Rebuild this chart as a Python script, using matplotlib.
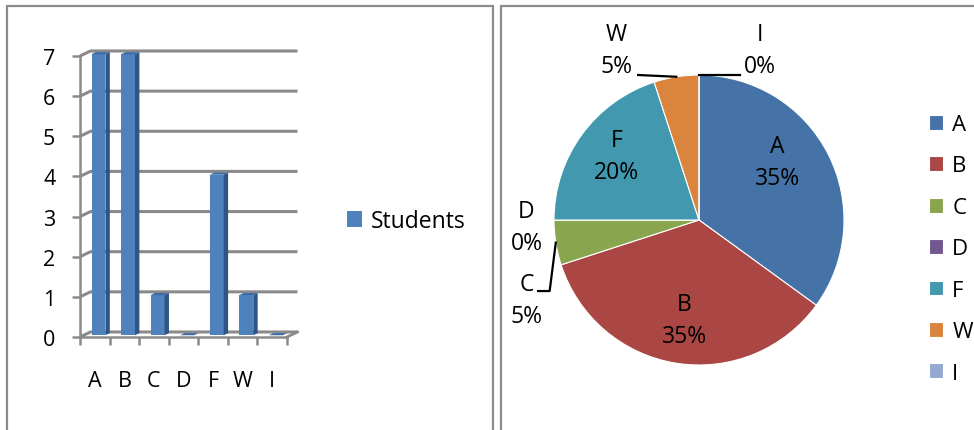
import numpy as np
import matplotlib
matplotlib.use("Agg")
import matplotlib.pyplot as plt
from matplotlib.patches import Polygon, Rectangle

plt.rcParams['font.family'] = ['Open Sans', 'DejaVu Sans']

# data
grades = ['A', 'B', 'C', 'D', 'F', 'W', 'I']
students = [7, 7, 1, 0, 4, 1, 0]
y_ticks = [0, 1, 2, 3, 4, 5, 6, 7]
pie_colors = ['#4572A7', '#AA4643', '#89A54E', '#71588F', '#4198AF', '#DB843D', '#93A9CF']

W, H = 974, 431
fig = plt.figure(figsize=(W / 100, H / 100), dpi=100)
fig.patch.set_facecolor('white')

# panel borders
fig.patches.append(Rectangle((7 / W, -0.1), 486 / W, 1.1 - 7 / H, transform=fig.transFigure,
                             fill=False, edgecolor='#8c8c8c', lw=1.6))
fig.patches.append(Rectangle((501 / W, -0.1), 0.5, 1.1 - 7 / H, transform=fig.transFigure,
                             fill=False, edgecolor='#8c8c8c', lw=1.6))

# ---------------- left: faux 3D column chart ----------------
ax = fig.add_axes([80 / W, (H - 338) / H, 207 / W, 281 / H])
n = len(grades)
ax.set_xlim(-0.5, n - 0.5)
ax.set_ylim(0, 7)

DX, DY = 0.355, 0.125          # depth of the walls in data units
grid_c = '#8a8a8a'

for y in y_ticks:
    ax.plot([-0.5, -0.5 + DX, n - 0.5 + DX], [y, y + DY, y + DY],
            color=grid_c, lw=2.2, zorder=1, clip_on=False, solid_capstyle='butt')
ax.plot([n - 0.5, n - 0.5 + DX], [0, DY], color=grid_c, lw=2.0, zorder=1, clip_on=False)

# bars
fx, fy = 0.35 * DX, 0.35 * DY
bdx, bdy = 0.42 * DX, 0.42 * DY
bw = 0.47
xs = np.arange(n)
bars = ax.bar(xs + fx, students, width=bw, bottom=fy, color='#4F81BD',
              label='Students', zorder=3, clip_on=False)
for i, v in enumerate(students):
    l = i + fx - bw / 2
    r = i + fx + bw / 2
    side = Polygon([(r, fy), (r + bdx, fy + bdy), (r + bdx, v + fy + bdy), (r, v + fy)],
                   closed=True, facecolor='#2E5585', edgecolor='none', zorder=3, clip_on=False)
    top = Polygon([(l, v + fy), (r, v + fy), (r + bdx, v + fy + bdy), (l + bdx, v + fy + bdy)],
                  closed=True, facecolor='#3A6AA6', edgecolor='none', zorder=3, clip_on=False)
    ax.add_patch(side)
    ax.add_patch(top)

for s in ['top', 'right']:
    ax.spines[s].set_visible(False)
for s in ['left', 'bottom']:
    ax.spines[s].set_color(grid_c)
    ax.spines[s].set_linewidth(1.8)
ax.set_facecolor('none')

ax.set_yticks(y_ticks)
ax.tick_params(axis='y', length=5.8, width=1.8, color=grid_c, pad=12, labelsize=15.5)
ax.set_xticks(xs)
ax.set_xticklabels(grades)
ax.tick_params(axis='x', which='major', length=0, pad=24, labelsize=15.5)
ax.set_xticks(np.arange(-0.5, n), minor=True)
ax.tick_params(axis='x', which='minor', length=5.8, width=1.8, color=grid_c)

fig.legend(handles=[bars], labels=['Students'], loc='center left',
           bbox_to_anchor=(347 / W, 1 - 222 / H), frameon=False, fontsize=16.5,
           handlelength=0.65, handleheight=0.65, handletextpad=0.4,
           borderpad=0, borderaxespad=0)

# ---------------- right: pie chart ----------------
R = 145
half = 1.5 * R
pax = fig.add_axes([(699 - half) / W, (H - 221 - half) / H, 2 * half / W, 2 * half / H])
wedges, _ = pax.pie(students, colors=pie_colors, startangle=90, counterclock=False,
                    wedgeprops=dict(edgecolor='white', linewidth=0.8))
pax.set_xlim(-1.5, 1.5)
pax.set_ylim(-1.5, 1.5)
pax.set_aspect('equal')

total = sum(students)
# text positions in pie-radius units
label_pos = {'A': (0.54, 0.40), 'B': (-0.10, -0.69), 'F': (-0.57, 0.44),
             'W': (-0.57, 1.17), 'I': (0.42, 1.17), 'D': (-1.19, -0.05), 'C': (-1.19, -0.55)}
for g, v, w in zip(grades, students, wedges):
    tx, ty = label_pos[g]
    pax.text(tx, ty, f'{g}\n{round(100 * v / total)}%', ha='center', va='center',
             fontsize=16.5, linespacing=1.45)

def edge_point(w):
    a = np.deg2rad((w.theta1 + w.theta2) / 2)
    return np.cos(a), np.sin(a)

wd = dict(zip(grades, wedges))
ex, ey = edge_point(wd['W'])
pax.plot([-0.42, ex], [1.00, ey], color='black', lw=1.6, clip_on=False)
ex, ey = edge_point(wd['I'])
pax.plot([ex, 0.28], [ey, ey], color='black', lw=1.6, clip_on=False)
ex, ey = edge_point(wd['C'])
pax.plot([-1.11, -1.03, ex], [-0.49, -0.49, ey], color='black', lw=1.6, clip_on=False)

fig.legend(wedges, grades, loc='upper left', bbox_to_anchor=(929 / W, 1 - 115 / H),
           frameon=False, fontsize=16, handlelength=0.65, handleheight=0.65,
           handletextpad=0.4, labelspacing=0.92, borderpad=0, borderaxespad=0)

fig.savefig('out.png', dpi=100)
